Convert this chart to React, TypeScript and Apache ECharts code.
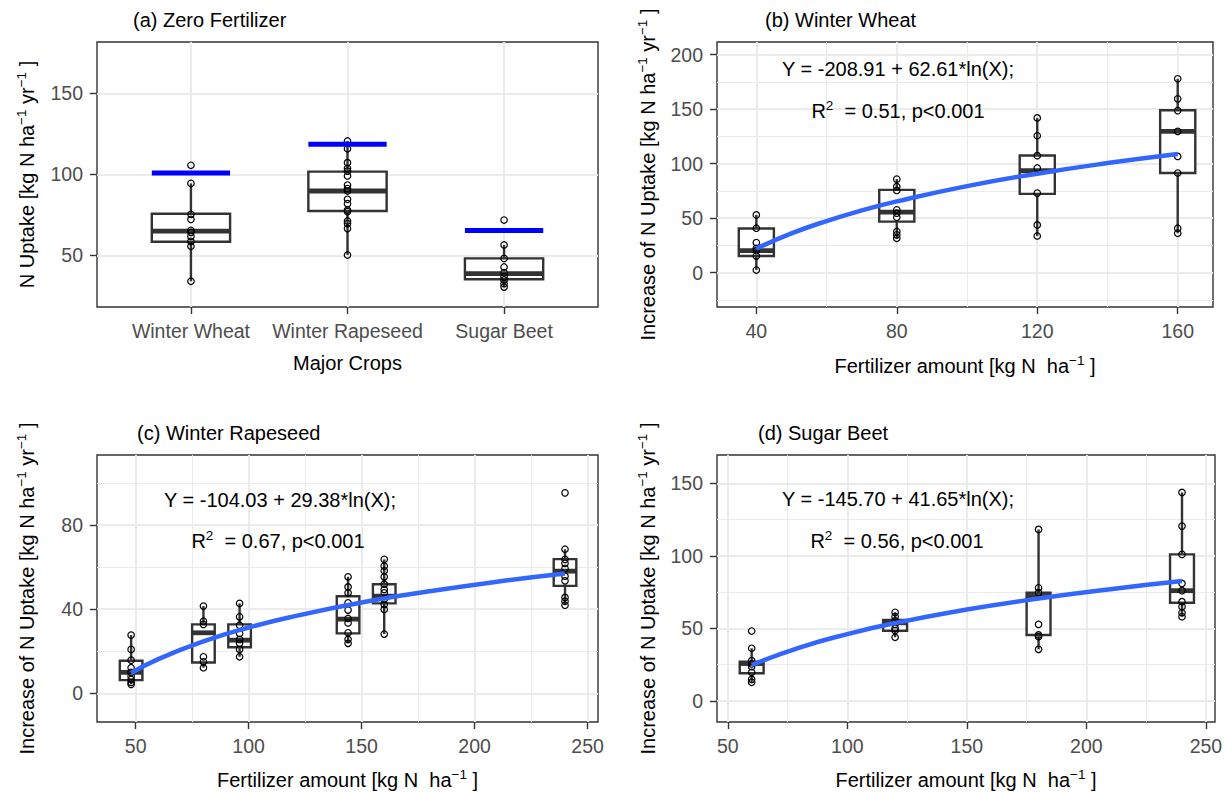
import React, { useEffect, useRef } from "react";
import * as echarts from "echarts";

// ---------------- DATA ----------------
// Panel (a) Zero Fertilizer
const cropsA = ["Winter Wheat", "Winter Rapeseed", "Sugar Beet"];
const cropPosA = [1, 2, 3];
// [lower whisker, Q1, median, Q3, upper whisker]
const boxA = [
  [34.0, 58.4, 65.0, 75.7, 94.4],
  [50.2, 77.4, 89.7, 101.7, 120.6],
  [30.4, 35.2, 38.7, 48.1, 56.4],
];
const pointsA = [
  [105.6, 94.4, 75.3, 72.2, 65.4, 64.2, 61.7, 58.6, 55.6, 34.0],
  [120.6, 115.8, 107.2, 103.7, 102.0, 99.0, 93.4, 91.2, 89.7, 84.6, 81.9, 78.0, 77.0, 71.2, 69.6, 66.5, 50.2],
  [71.8, 56.4, 48.1, 42.8, 39.3, 36.8, 34.8, 32.5, 30.4],
];
const blueA = [100.8, 118.5, 65.4];

// Panel (b) Winter Wheat
const fertB = [40, 80, 120, 160];
const boxB = [
  [2.5, 15.3, 20.2, 40.5, 53.0],
  [31.6, 46.9, 55.5, 76.0, 85.8],
  [33.7, 72.3, 93.5, 107.5, 141.9],
  [36.2, 91.4, 129.6, 148.9, 177.8],
];
const pointsB = [
  [53.0, 40.8, 27.6, 22.4, 20.2, 15.3, 2.5],
  [85.8, 79.0, 75.4, 57.6, 54.6, 50.9, 37.7, 34.7, 31.6],
  [141.9, 125.6, 107.3, 96.0, 73.0, 43.8, 33.7],
  [177.8, 159.4, 148.6, 129.6, 106.6, 91.4, 40.8, 36.2],
];
const fitB = [[40, 22.1], [50, 36.0], [60, 47.4], [70, 57.1], [80, 65.4], [100, 79.4], [120, 90.8], [140, 100.5], [160, 108.9]];

// Panel (c) Winter Rapeseed
const fertC = [48, 80, 96, 144, 160, 240];
const boxC = [
  [4.3, 6.3, 10.0, 15.5, 27.7],
  [12.2, 14.7, 28.8, 32.8, 41.5],
  [17.4, 21.9, 25.3, 32.8, 42.8],
  [23.8, 28.5, 35.3, 46.2, 55.4],
  [28.2, 42.8, 46.2, 51.9, 63.7],
  [41.9, 51.1, 58.1, 63.8, 68.5],
];
const pointsC = [
  [27.7, 20.9, 15.8, 12.2, 10.0, 8.2, 6.6, 5.2, 4.3],
  [41.5, 34.3, 32.8, 17.4, 15.0, 12.2],
  [42.8, 36.4, 32.4, 28.5, 25.7, 23.8, 20.9, 17.4],
  [55.4, 50.6, 47.8, 43.0, 39.6, 35.6, 33.5, 28.8, 25.7, 23.8],
  [63.7, 60.5, 58.3, 55.4, 51.9, 49.4, 47.8, 44.7, 42.3, 39.9, 28.2],
  [95.3, 68.5, 63.7, 61.8, 59.4, 55.7, 53.5, 45.6, 43.8, 41.9],
];
const fitC = [[48, 9.7], [60, 16.3], [80, 24.7], [100, 31.3], [120, 36.6], [150, 43.2], [180, 48.5], [210, 53.1], [240, 57.0]];

// Panel (d) Sugar Beet
const fertD = [60, 120, 180, 240];
const boxD = [
  [12.9, 19.1, 25.8, 27.1, 36.3],
  [43.9, 48.4, 53.9, 55.8, 61.1],
  [35.6, 45.5, 72.0, 74.6, 118.2],
  [58.1, 67.7, 76.0, 101.0, 143.7],
];
const pointsD = [
  [48.2, 36.3, 27.8, 25.5, 23.6, 19.7, 14.9, 12.9],
  [61.1, 58.1, 55.3, 52.8, 50.1, 48.5, 43.9],
  [118.2, 78.0, 74.6, 52.8, 45.5, 44.3, 35.6],
  [143.7, 120.5, 101.0, 81.0, 76.0, 68.4, 65.0, 60.8, 58.1],
];
const fitD = [[60, 24.8], [80, 36.8], [100, 46.1], [120, 53.7], [150, 63.0], [180, 70.6], [210, 77.0], [240, 82.6]];

// Tick values
const yTicksA = [50, 100, 150];
const xTicksB = [40, 80, 120, 160];
const xMinorB = [60, 100, 140];
const yTicksB = [0, 50, 100, 150, 200];
const yMinorB = [-25, 25, 75, 125, 175];
const xTicksCD = [50, 100, 150, 200, 250];
const xMinorCD = [75, 125, 175, 225];
const yTicksC = [0, 40, 80];
const yMinorC = [20, 60, 100];
const yTicksD = [0, 50, 100, 150];
const yMinorD = [25, 75, 125];

// ---------------- STYLE ----------------
const FONT = "'Liberation Sans', Arial, Helvetica, sans-serif";
const BORDER = "#333333";
const GRID_COLOR = "#EBEBEB";
const TICK_TEXT = "#4D4D4D";
const TICK_SIZE = 19.5;
const TEXT_SIZE = 20;

type PanelCfg = {
  rect: number[];
  xRange: number[];
  yRange: number[];
  xMajor: number[];
  xMinor: number[];
  yMajor: number[];
  yMinor: number[];
  xFmt?: (v: number) => string;
};

const panels: PanelCfg[] = [
  { rect: [97, 42, 501, 265], xRange: [0.4, 3.6], yRange: [18.1, 181.7], xMajor: cropPosA, xMinor: [], yMajor: yTicksA, yMinor: [],
    xFmt: (v: number) => cropsA[Math.round(v) - 1] },
  { rect: [717, 42, 496, 265], xRange: [28.8, 170.05], yRange: [-31.4, 211.5], xMajor: xTicksB, xMinor: xMinorB, yMajor: yTicksB, yMinor: yMinorB },
  { rect: [97, 455, 501, 267], xRange: [32.9, 254.6], yRange: [-13.6, 113.3], xMajor: xTicksCD, xMinor: xMinorCD, yMajor: yTicksC, yMinor: yMinorC },
  { rect: [717, 455, 498, 267], xRange: [45.5, 253.8], yRange: [-14.5, 169.5], xMajor: xTicksCD, xMinor: xMinorCD, yMajor: yTicksD, yMinor: yMinorD },
];

function buildOption() {
  const grid: any[] = [];
  const xAxis: any[] = [];
  const yAxis: any[] = [];
  const axisIdx: { x: number; y: number }[] = [];

  panels.forEach((p, i) => {
    grid.push({
      left: p.rect[0], top: p.rect[1], width: p.rect[2], height: p.rect[3],
      show: true, borderColor: BORDER, borderWidth: 1.4, backgroundColor: "#fff",
    });
    const xi = xAxis.length;
    xAxis.push({
      type: "value", gridIndex: i, min: p.xRange[0], max: p.xRange[1], position: "bottom",
      axisLine: { show: false, onZero: false },
      axisTick: { show: true, length: 7, lineStyle: { color: BORDER, width: 1.4 }, customValues: p.xMajor },
      axisLabel: {
        customValues: p.xMajor, margin: 14, color: TICK_TEXT, fontSize: TICK_SIZE, fontFamily: FONT,
        formatter: p.xFmt ? p.xFmt : (v: number) => String(v),
      },
      splitLine: { show: true, lineStyle: { color: GRID_COLOR, width: 2 } },
    });
    if (p.xMinor.length) {
      xAxis.push({
        type: "value", gridIndex: i, min: p.xRange[0], max: p.xRange[1], position: "top",
        axisLine: { show: false, onZero: false },
        axisTick: { show: false, customValues: p.xMinor },
        axisLabel: { show: false },
        splitLine: { show: true, lineStyle: { color: GRID_COLOR, width: 1 } },
      });
    }
    const yi = yAxis.length;
    yAxis.push({
      type: "value", gridIndex: i, min: p.yRange[0], max: p.yRange[1], position: "left",
      axisLine: { show: false, onZero: false },
      axisTick: { show: true, length: 7, lineStyle: { color: BORDER, width: 1.4 }, customValues: p.yMajor },
      axisLabel: { customValues: p.yMajor, margin: 14, color: TICK_TEXT, fontSize: TICK_SIZE, fontFamily: FONT,
        formatter: (v: number) => String(v) },
      splitLine: { show: true, lineStyle: { color: GRID_COLOR, width: 2 } },
    });
    if (p.yMinor.length) {
      yAxis.push({
        type: "value", gridIndex: i, min: p.yRange[0], max: p.yRange[1], position: "right",
        axisLine: { show: false, onZero: false },
        axisTick: { show: false, customValues: p.yMinor },
        axisLabel: { show: false },
        splitLine: { show: true, lineStyle: { color: GRID_COLOR, width: 1 } },
      });
    }
    axisIdx.push({ x: xi, y: yi });
  });

  const series: any[] = [];

  const boxSeries = (pi: number, xs: number[], boxes: number[][], halfW: number) => ({
    type: "custom",
    xAxisIndex: axisIdx[pi].x,
    yAxisIndex: axisIdx[pi].y,
    z: 2,
    silent: true,
    data: xs.map((x, i) => [x, ...boxes[i]]),
    renderItem: (params: any, api: any) => {
      const x = api.value(0);
      const lo = api.value(1), q1 = api.value(2), med = api.value(3), q3 = api.value(4), hi = api.value(5);
      const pLo = api.coord([x, lo]);
      const pQ1 = api.coord([x, q1]);
      const pQ3 = api.coord([x, q3]);
      const pHi = api.coord([x, hi]);
      const tl = api.coord([x - halfW, q3]);
      const br = api.coord([x + halfW, q1]);
      const ml = api.coord([x - halfW, med]);
      const mr = api.coord([x + halfW, med]);
      const lineStyle = { stroke: BORDER, lineWidth: 2.4, fill: null };
      return {
        type: "group",
        children: [
          { type: "line", shape: { x1: pHi[0], y1: pHi[1], x2: pQ3[0], y2: pQ3[1] }, style: lineStyle },
          { type: "line", shape: { x1: pQ1[0], y1: pQ1[1], x2: pLo[0], y2: pLo[1] }, style: lineStyle },
          { type: "rect", shape: { x: tl[0], y: tl[1], width: br[0] - tl[0], height: br[1] - tl[1] },
            style: { fill: "#fff", stroke: BORDER, lineWidth: 2.4 } },
          { type: "line", shape: { x1: ml[0], y1: ml[1], x2: mr[0], y2: mr[1] }, style: { stroke: BORDER, lineWidth: 4.8 } },
        ],
      };
    },
  });

  const pointSeries = (pi: number, xs: number[], pts: number[][]) => ({
    type: "scatter",
    xAxisIndex: axisIdx[pi].x,
    yAxisIndex: axisIdx[pi].y,
    z: 3,
    silent: true,
    symbol: "circle",
    symbolSize: 6.5,
    itemStyle: { color: "rgba(255,255,255,0)", borderColor: "#000", borderWidth: 1.2, opacity: 1 },
    data: pts.flatMap((arr, i) => arr.map((v) => [xs[i], v])),
  });

  const fitSeries = (pi: number, fit: number[][]) => ({
    type: "line",
    xAxisIndex: axisIdx[pi].x,
    yAxisIndex: axisIdx[pi].y,
    z: 4,
    silent: true,
    smooth: true,
    showSymbol: false,
    lineStyle: { color: "#3366FF", width: 4.5 },
    data: fit,
  });

  // panel a
  series.push(boxSeries(0, cropPosA, boxA, 0.25));
  series.push(pointSeries(0, cropPosA, pointsA));
  series.push({
    type: "custom",
    xAxisIndex: axisIdx[0].x,
    yAxisIndex: axisIdx[0].y,
    z: 4,
    silent: true,
    data: cropPosA.map((x, i) => [x, blueA[i]]),
    renderItem: (params: any, api: any) => {
      const x = api.value(0), v = api.value(1);
      const a = api.coord([x - 0.25, v]);
      const b = api.coord([x + 0.25, v]);
      return { type: "line", shape: { x1: a[0], y1: a[1], x2: b[0], y2: b[1] }, style: { stroke: "#0000FF", lineWidth: 5 } };
    },
  });
  // panel b
  series.push(boxSeries(1, fertB, boxB, 5));
  series.push(pointSeries(1, fertB, pointsB));
  series.push(fitSeries(1, fitB));
  // panel c
  series.push(boxSeries(2, fertC, boxC, 5));
  series.push(pointSeries(2, fertC, pointsC));
  series.push(fitSeries(2, fitC));
  // panel d
  series.push(boxSeries(3, fertD, boxD, 5));
  series.push(pointSeries(3, fertD, pointsD));
  series.push(fitSeries(3, fitD));

  const rich = {
    n: { fontSize: TEXT_SIZE, fontFamily: FONT, fill: "#000", lineHeight: 26 },
    s: { fontSize: 13.5, fontFamily: FONT, fill: "#000", lineHeight: 14, verticalAlign: "top" },
  };
  const text = (x: number, y: number, t: string, opts: any = {}) => ({
    type: "text",
    x, y,
    rotation: opts.rotation || 0,
    style: {
      text: t,
      x: 0, y: 0,
      align: opts.align || "center",
      verticalAlign: "middle",
      rich,
      fontSize: TEXT_SIZE,
      fontFamily: FONT,
      fill: "#000",
    },
    z: 10,
  });

  const yTitleA = "{n|N Uptake [kg N ha}{s|\u22121}{n| yr}{s|\u22121}{n| ]}";
  const yTitleInc = "{n|Increase of N Uptake [kg N ha}{s|\u22121}{n| yr}{s|\u22121}{n| ]}";
  const xTitleFert = "{n|Fertilizer amount [kg N  ha}{s|\u22121}{n| ]}";

  const graphic = [
    text(133, 20, "{n|(a) Zero Fertilizer}", { align: "left" }),
    text(765, 20, "{n|(b) Winter Wheat}", { align: "left" }),
    text(137, 433, "{n|(c) Winter Rapeseed}", { align: "left" }),
    text(758, 433, "{n|(d) Sugar Beet}", { align: "left" }),

    text(27, 174.5, yTitleA, { rotation: Math.PI / 2 }),
    text(648, 174.5, yTitleInc, { rotation: Math.PI / 2 }),
    text(27, 588.5, yTitleInc, { rotation: Math.PI / 2 }),
    text(648, 588.5, yTitleInc, { rotation: Math.PI / 2 }),

    text(347.5, 363, "{n|Major Crops}"),
    text(965, 366, xTitleFert),
    text(347.5, 780, xTitleFert),
    text(966, 780, xTitleFert),

    text(898, 69, "{n|Y = -208.91 + 62.61*ln(X);}"),
    text(898, 111, "{n|R}{s|2}{n|  = 0.51, p<0.001}"),
    text(280, 500, "{n|Y = -104.03 + 29.38*ln(X);}"),
    text(278, 541, "{n|R}{s|2}{n|  = 0.67, p<0.001}"),
    text(898, 499, "{n|Y = -145.70 + 41.65*ln(X);}"),
    text(897, 541, "{n|R}{s|2}{n|  = 0.56, p<0.001}"),
  ];

  return {
    animation: false,
    backgroundColor: "#fff",
    grid,
    xAxis,
    yAxis,
    series,
    graphic,
  };
}

export default function App() {
  const ref = useRef<HTMLDivElement>(null);
  useEffect(() => {
    if (!ref.current) return;
    const chart = echarts.init(ref.current, null, { renderer: "svg" });
    chart.setOption(buildOption() as any);
    return () => chart.dispose();
  }, []);
  return (
    <div
      ref={ref}
      style={{ position: "fixed", left: 0, top: 0, width: 1228, height: 792, background: "#fff" }}
    />
  );
}
